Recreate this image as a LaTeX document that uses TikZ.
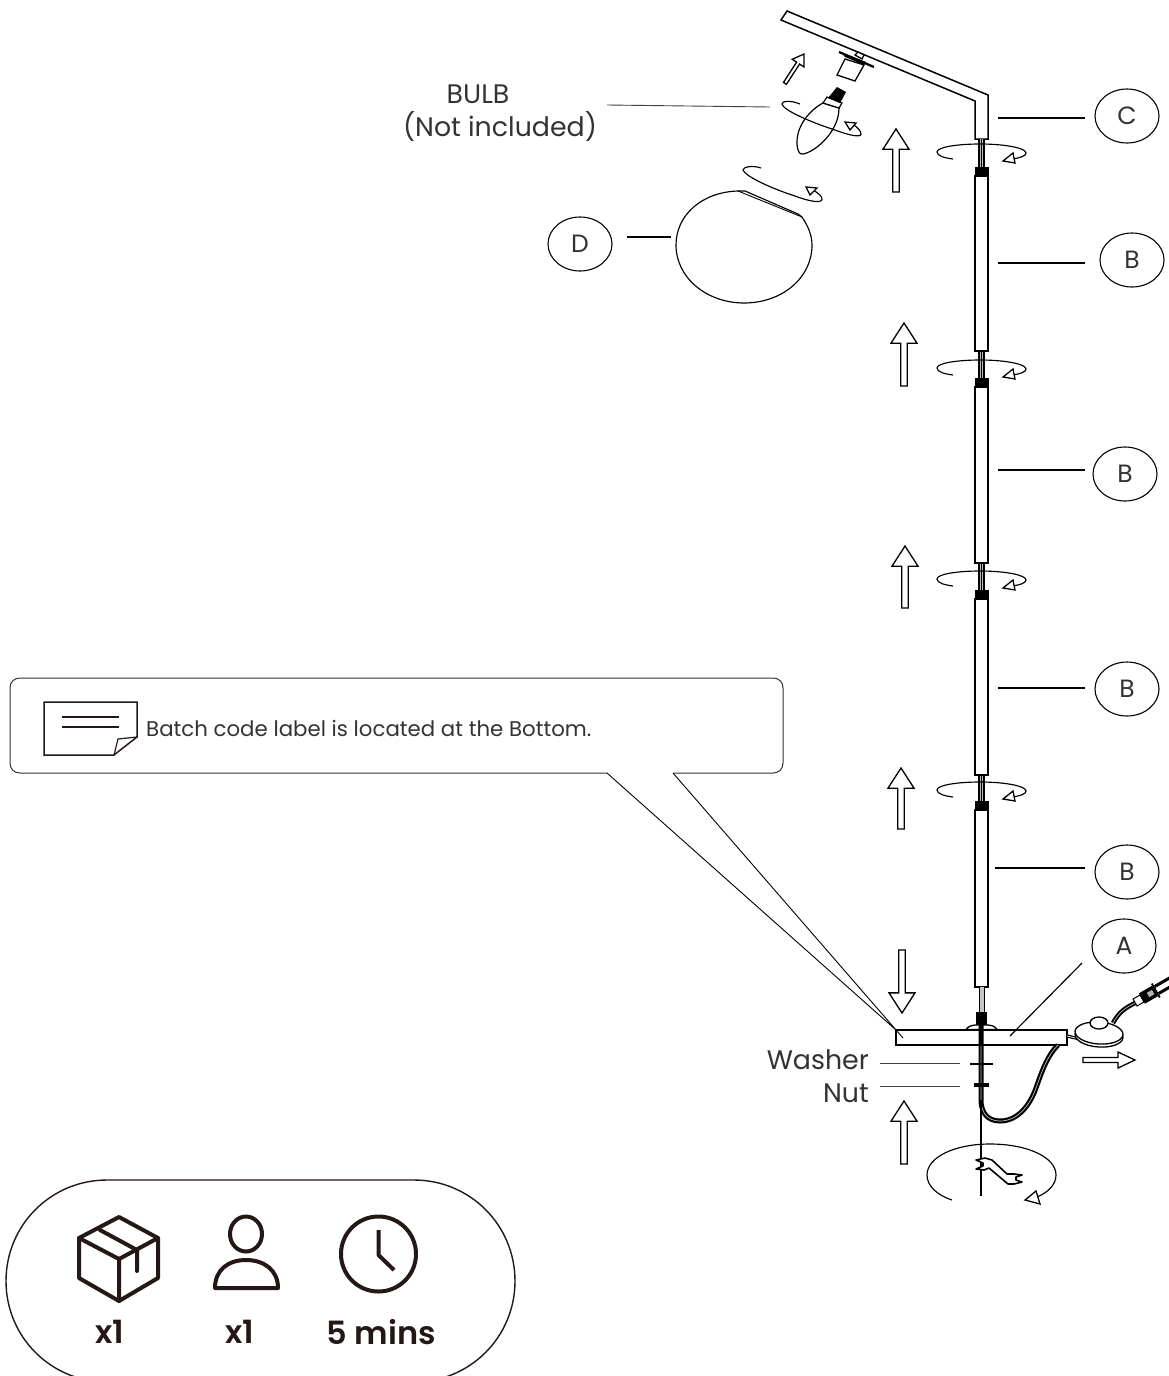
\documentclass[tikz,border=0pt]{standalone}
\usepackage{fontspec}
\setmainfont{Poppins}
\newfontface\semib{Poppins SemiBold}
\usetikzlibrary{shapes.geometric}
\definecolor{ink}{HTML}{231815}
\definecolor{txt}{HTML}{333333}
\newcommand{\blockarrow}[5]{% x y rot length headwidth
  \begin{scope}[shift={(#1,#2)},rotate=#3]
    \draw[shp] (0,0) -- (#5,{#5*1.55}) -- ({#5*0.25},{#5*1.55}) -- ({#5*0.25},#4) -- ({-#5*0.25},#4) -- ({-#5*0.25},{#5*1.55}) -- ({-#5},{#5*1.55}) -- cycle;
  \end{scope}}
\newcommand{\swirl}[1]{%
  \begin{scope}[yshift=#1]
    \draw[thinln] (953,159) .. controls (945,158) and (937,156) .. (937,152) .. controls (937,147) and (958,144) .. (980,144) .. controls (1005,144) and (1026,148) .. (1026,153) .. controls (1026,156) and (1020,158) .. (1012,159);
    \draw[shp,fill=white] (1013,153) -- (1003,161) -- (1015,163) -- cycle;
  \end{scope}}
\newcommand{\rod}[1]{%
  \fill[gray!50] (979,#1) rectangle +(5,28);
  \draw[line width=1.2pt,black] (979,#1) -- +(0,28) (981.5,#1) -- +(0,28) (984,#1) -- +(0,28);}
\newcommand{\tube}[2]{%
  \fill[black] (974.5,#1) rectangle (988.5,{#1+9});
  \draw[shp,line width=1.5pt] (975,{#1+9}) rectangle (988,#2);}
\tikzset{
  shp/.style={draw=black,line width=1.3pt,fill=white,line join=miter},
  thinln/.style={draw=black,line width=1.15pt},
  leader/.style={draw=black,line width=1.1pt,shorten >=9pt},
  leaderg/.style={draw=black!75,line width=0.9pt},
  tag/.style={draw=black,line width=1.1pt,ellipse,minimum width=64pt,minimum height=54pt,inner sep=0pt,font=\fontsize{25}{25}\selectfont,text=txt,fill=white},
  lbl/.style={font=\fontsize{26.8}{27}\selectfont,text=txt,inner sep=0pt},
  boldlbl/.style={font=\fontsize{32}{32}\semib,text=ink,inner sep=0pt},
  icon/.style={draw=ink,line width=4pt,line join=round,line cap=round},
  pageicon/.style={draw=ink,line width=1.5pt,line join=miter}
}
\begin{document}
\begin{tikzpicture}[x=1pt,y=-1pt]
\useasboundingbox (0,0) rectangle (1168,1376);
\fill[white] (0,0) rectangle (1168,1376);

% --- pill
\begin{scope}
\clip (0,1170) rectangle (1168,1376);
\draw[draw=ink,line width=1.4pt] (107,1180) -- (414,1180) .. controls (470,1180) and (515,1225) .. (515,1281) .. controls (515,1337) and (470,1382) .. (414,1382) -- (107,1382) .. controls (51,1382) and (6,1337) .. (6,1281) .. controls (6,1225) and (51,1180) .. (107,1180) -- cycle;
\end{scope}
% box icon
\begin{scope}[xshift=2pt]
\draw[icon] (117,1217) -- (156,1238) -- (156,1278) -- (117,1301) -- (77,1278) -- (77,1238) -- cycle;
\draw[icon] (77,1238) -- (117,1259) -- (156,1238) (117,1259) -- (117,1301) (98,1230) -- (135,1250) -- (135,1271);
\end{scope}
% person icon
\draw[icon] (246,1234) ellipse [x radius=16,y radius=17.5];
\draw[icon] (215,1288) .. controls (215,1270) and (228,1260) .. (246,1260) .. controls (264,1260) and (278,1270) .. (278,1288) -- cycle;
% clock icon
\draw[icon] (378.5,1254) circle (37.5);
\draw[icon,line cap=butt] (378.5,1230) -- (378.5,1255) -- (394,1270);
\node[boldlbl] (q1) at (110,1332) {x1};
\node[boldlbl] (q2) at (240,1332) {x1};
\node[boldlbl] (q3) at (381,1332) {5 mins};

% --- callout
\coordinate (ca) at (607,773);
\coordinate (cb) at (673,773);
\coordinate (cc) at (896,1030);
\coordinate (cd) at (903,1038);
\draw[draw=black!80,line width=1pt] (607,773) -- (20,773) .. controls (14,773) and (10,769) .. (10,763) -- (10,688) .. controls (10,682) and (14,678) .. (20,678) -- (773,678) .. controls (779,678) and (783,682) .. (783,688) -- (783,763) .. controls (783,769) and (779,773) .. (773,773) -- (673,773);
\draw[pageicon] (44,702) -- (137,702) -- (137,737) -- (114,755) -- (44,755) -- cycle;
\draw[pageicon] (62,717) -- (119,717) (62,727) -- (119,727);
\draw[pageicon,line width=1.2pt] (137,737) -- (118,739) -- (114,755);
\node[font=\fontsize{21.3}{21}\selectfont,text=txt,inner sep=0pt,anchor=west] (batch) at (146,728) {Batch code label is located at the Bottom.};

% --- base
\draw[shp,line width=1.5pt] (896,1030) rectangle (1067,1045);
\draw[thinln,line width=0.9pt] (ca) -- (cc) (cb) -- (cd);

% --- rods, tubes
\draw[shp,line width=1.5pt] (975,139) -- (975,101) -- (781,20) -- (787,11) -- (988,95) -- (988,139) -- cycle;
\rod{139}\rod{351}\rod{563}\rod{774}
\tube{167}{351}
\tube{378}{563}
\tube{590}{775}
\tube{801}{987}
\fill[gray!45] (979,987) rectangle (984,1012);
\draw[line width=1pt] (979,987) -- (979,1012) (984,987) -- (984,1012);
\fill[black] (976,1012) rectangle (987,1025);
\draw[shp] (966,1029.5) .. controls (968,1026) and (973,1025) .. (976,1025) -- (987,1025) .. controls (991,1025) and (995,1026) .. (997,1029.5) -- cycle;
\swirl{0pt}
\swirl{-216pt}
\swirl{-427pt}
\swirl{-638pt}

% --- cord
\draw[line width=5pt,black] (981,1025) -- (981,1100) .. controls (981,1112) and (987,1121) .. (1000,1121) .. controls (1018,1121) and (1030,1105) .. (1036,1088) .. controls (1043,1068) and (1048,1055) .. (1058,1045);
\draw[line width=0.7pt,gray!50] (981,1046) -- (981,1100) .. controls (981,1112) and (987,1121) .. (1000,1121) .. controls (1018,1121) and (1030,1105) .. (1036,1088) .. controls (1043,1068) and (1048,1055) .. (1058,1045);
\draw[line width=1.1pt,black] (981,1100) -- (981,1196);
\draw[line width=2.4pt,black] (970,1064) -- (993,1064);
\draw[line width=3.6pt,black] (974,1085) -- (989,1085);

% --- big swirl with wrench
\draw[thinln] (952,1200) .. controls (937,1195) and (927,1186) .. (927,1175) .. controls (927,1157) and (955,1144) .. (990,1144) .. controls (1027,1144) and (1056,1157) .. (1056,1175) .. controls (1056,1184) and (1049,1192) .. (1037,1197);
\draw[shp] (1025,1200) -- (1036,1191) -- (1040,1204) -- cycle;
\draw[draw=black,line width=1.6pt,fill=white,line join=round] (976,1160) -- (985,1158) -- (992,1160) -- (1007,1174) -- (1014,1174) -- (1022,1175) -- (1016,1177) -- (1016,1180) -- (1022,1182) -- (1014,1184) -- (1008,1184) -- (989,1168) -- (984,1170) -- (976,1169) -- (983,1166) -- (983,1163) -- cycle;

% --- foot switch
\draw[line width=3.2pt] (1067,1036) -- (1080,1039);
\draw[line width=0.7pt,white] (1067,1036) -- (1080,1039);
\draw[line width=4.5pt] (1113,1023) .. controls (1119,1012) and (1125,1008) .. (1135,1003);
\draw[line width=0.7pt,gray!50] (1113,1023) .. controls (1119,1012) and (1125,1008) .. (1135,1003);
\draw[shp,rotate around={-4:(1099,1036)}] (1099,1036) ellipse [x radius=24,y radius=11];
\draw[shp,rotate around={-4:(1099,1033)}] (1099,1033) ellipse [x radius=24,y radius=11];
\draw[shp] (1099,1023) ellipse [x radius=9,y radius=6];
\begin{scope}[shift={(1148,995)},rotate=30]
  \draw[shp,line width=1pt] (-15,-4) rectangle (-7,4);
  \fill[black] (-7,-6) rectangle (8,6);
  \fill[gray!60] (0,-2.5) rectangle (6,2.5);
  \draw[line width=1.8pt] (9,-8) -- (9,8);
  \fill[black] (10,-5.5) rectangle (30,-2.5);
  \fill[black] (10,2.5) rectangle (30,5.5);
\end{scope}

% --- up / down / right arrows
\blockarrow{896}{129}{0}{63}{13}
\blockarrow{904}{323}{0}{63}{13}
\blockarrow{905}{546}{0}{62}{13}
\blockarrow{901}{768}{0}{61}{13}
\blockarrow{904}{1101}{0}{63}{13}
\blockarrow{902}{1013}{180}{63}{13}
\draw[shp] (1135,1060) -- (1118,1052) -- (1118,1057.5) -- (1083,1057.5) -- (1083,1062.5) -- (1118,1062.5) -- (1118,1068) -- cycle;
\blockarrow{804}{54}{-33}{35}{7}

% --- socket
\draw[shp] (845,59) -- (837,75) -- (855,81) -- (864,65) -- cycle;
\draw[shp] (855,55) -- (858,52) -- (864,55) -- (862,59) -- cycle;
\draw[line width=2.2pt] (839,52) -- (874,67);
\fill[black] (841,52) -- (866,62) -- (864,65) -- (845,57) -- cycle;

% --- bulb
\draw[shp,line width=1.2pt] (823,103) .. controls (810,110) and (797,125) .. (797,142) .. controls (797,150) and (799,155) .. (803,154) .. controls (815,152) and (839,132) .. (839,108) -- cycle;
\draw[shp,line width=1.2pt] (823,103) -- (827,97) -- (842,103) -- (839,108) -- cycle;
\fill[black] (828,98) -- (837,87) -- (846,92) -- (840,103) -- cycle;
\draw[thinln] (800,104) .. controls (790,100) and (782,101) .. (782,104) .. controls (783,110) and (810,122) .. (835,130) .. controls (848,135) and (861,138) .. (861,134) .. controls (861,131) and (858,128) .. (854,125);
\draw[shp] (845,122) -- (856,123) -- (850,130) -- cycle;

% --- globe
\draw[thinln,fill=white] (738,191) .. controls (702,192) and (676,215) .. (676,245) .. controls (676,278) and (707,303) .. (744,303) .. controls (782,303) and (812,278) .. (812,245) .. controls (812,235) and (808,226) .. (802,217) -- (798,214) -- (745,191) -- cycle;
\draw[thinln,line width=0.9pt] (738,191) -- (802,217);
\draw[thinln] (761,168) .. controls (752,165) and (743,167) .. (743,170) .. controls (745,176) and (770,188) .. (795,196) .. controls (808,201) and (822,204) .. (822,199) .. controls (822,196) and (818,193) .. (813,190);
\draw[shp] (806,187) -- (817,188) -- (810,195) -- cycle;

% --- tags
\node[tag] (C) at (1127,116) {C};
\node[tag] (B1) at (1132,260) {B};
\node[tag] (B2) at (1125,474) {B};
\node[tag] (B3) at (1127,689) {B};
\node[tag] (B4) at (1127,872) {B};
\node[tag] (A) at (1124,946) {A};
\node[tag] (D) at (580,244) {D};
\node[lbl] (bulb1) at (478,94) {BULB};
\node[lbl] (bulb2) at (500,126) {(Not included)};
\node[lbl,anchor=east] (washer) at (869,1060) {Washer};
\node[lbl,anchor=east] (nut) at (869,1093) {Nut};

\coordinate (pC) at (998,118);
\coordinate (pB1) at (998,263);
\coordinate (pB2) at (998,470);
\coordinate (pB3) at (998,688);
\coordinate (pB4) at (995,868);
\coordinate (pA) at (1010,1036);
\coordinate (pA2) at (1082,963);
\coordinate (pD) at (671,237);
\coordinate (pD2) at (627,237);
\coordinate (pBulb) at (770,107);
\coordinate (pBulb2) at (607,105);
\coordinate (pW) at (960,1063);
\coordinate (pW2) at (880,1063);
\coordinate (pN) at (960,1086);
\coordinate (pN2) at (880,1086);
\draw[leader] (pC) -- (pC -| C.west);
\draw[leader,shorten >=14pt] (pB1) -- (pB1 -| B1.west);
\draw[leader,shorten >=7pt] (pB2) -- (pB2 -| B2.west);
\draw[leader] (pB3) -- (pB3 -| B3.west);
\draw[leader] (pB4) -- (pB4 -| B4.west);
\draw[thinln] (pA) -- (pA2);
\draw[thinln] (pD2) -- (pD);
\draw[leaderg] (pBulb2) -- (pBulb);
\draw[leaderg] (pW2) -- (pW);
\draw[leaderg] (pN2) -- (pN);
\end{tikzpicture}
\end{document}
